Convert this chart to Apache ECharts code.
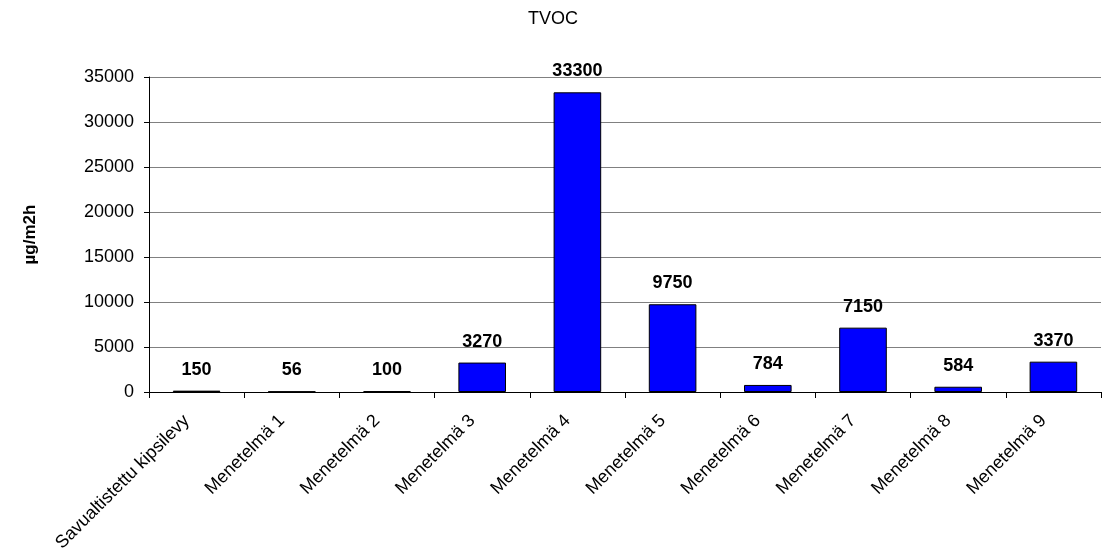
<!DOCTYPE html>
<html>
<head>
<meta charset="utf-8">
<script src="https://cdn.jsdelivr.net/npm/echarts@6/dist/echarts.min.js"></script>
<style>html,body{margin:0;padding:0;background:#fff}#c{width:1106px;height:556px}</style>
</head>
<body>
<div id="c"></div>
<script>
const categories = ["Savualtistettu kipsilevy","Menetelmä 1","Menetelmä 2","Menetelmä 3","Menetelmä 4","Menetelmä 5","Menetelmä 6","Menetelmä 7","Menetelmä 8","Menetelmä 9"];
const tvocValues = [150, 56, 100, 3270, 33300, 9750, 784, 7150, 584, 3370];
const chartTitle = "TVOC";
const yAxisName = "µg/m2h";

const chart = echarts.init(document.getElementById('c'), null, {renderer: 'canvas'});
chart.setOption({
  animation: false,
  backgroundColor: '#fff',
  title: {
    text: chartTitle, left: 'center', top: 5,
    textStyle: {fontFamily: 'Liberation Sans, Arial', fontSize: 18, fontWeight: 'normal', color: '#000'}
  },
  grid: {left: 149, right: 5, top: 77, bottom: 164},
  xAxis: {
    type: 'category', data: categories,
    axisLine: {lineStyle: {color: '#000', width: 1}},
    axisTick: {show: true, length: 6, lineStyle: {color: '#000'}},
    axisLabel: {
      interval: 0, rotate: 45, margin: 16, color: '#000',
      padding: [0, 14, 0, 0],
      fontFamily: 'Liberation Sans, Arial', fontSize: 18
    }
  },
  yAxis: {
    type: 'value', min: 0, max: 35000, interval: 5000,
    name: yAxisName, nameLocation: 'middle', nameGap: 110, nameRotate: 90,
    nameTextStyle: {fontFamily: 'Liberation Sans, Arial', fontSize: 17, fontWeight: 'bold', color: '#000'},
    axisLine: {show: true, lineStyle: {color: '#000', width: 1}},
    axisTick: {show: true, length: 5, lineStyle: {color: '#000'}},
    axisLabel: {margin: 15, color: '#000', fontFamily: 'Liberation Sans, Arial', fontSize: 18,
      formatter: function (v) { return String(v); }},
    splitLine: {show: true, lineStyle: {color: '#808080', width: 1}}
  },
  series: [{
    type: 'bar', data: tvocValues, barWidth: '50%',
    itemStyle: {color: '#0000FF', borderColor: '#000', borderWidth: 1},
    label: {
      show: true, position: 'top', distance: 12, color: '#000',
      fontFamily: 'Liberation Sans, Arial', fontSize: 18, fontWeight: 'bold'
    }
  }]
});
</script>
</body>
</html>
